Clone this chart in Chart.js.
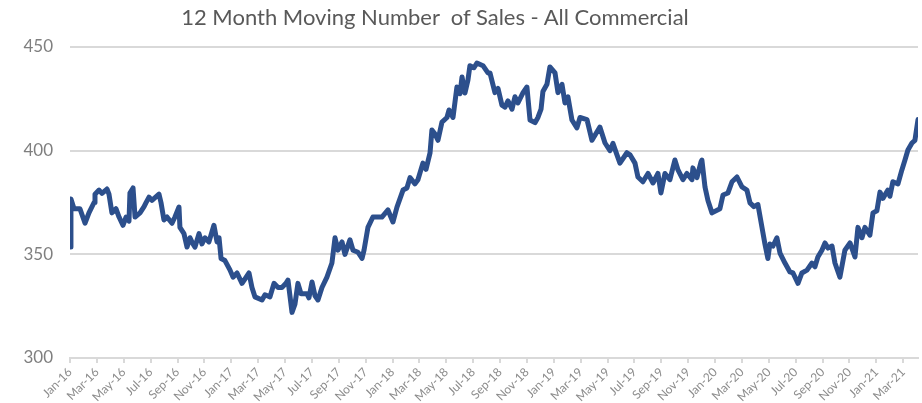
<!DOCTYPE html>
<html>
<head>
<meta charset="utf-8">
<script src="https://cdn.jsdelivr.net/npm/chart.js@4.4.1/dist/chart.umd.min.js"></script>
<style>
  html, body { margin: 0; padding: 0; background: #fff; }
  #wrap { position: relative; width: 922px; height: 403px; }
  #title {
    position: absolute; left: 0; top: 3px; width: 870px; text-align: center;
    font-family: Lato, 'Open Sans', sans-serif; font-size: 22px; color: #595959;
    white-space: pre;
  }
</style>
</head>
<body>
<div id="wrap">
  <div id="title">12 Month Moving Number  of Sales - All Commercial</div>
  <canvas id="salesChart" width="922" height="403"></canvas>
</div>
<script>
// months since Jan-16 for each reading
const months = [
  0, 0.07, 0.30, 0.74, 1.12, 1.41, 1.79, 1.86, 2.16, 2.38, 2.75, 2.90, 3.12, 3.42, 3.65, 3.94,
  4.17, 4.39, 4.46, 4.69, 4.84, 5.21, 5.51, 5.65, 5.88, 6.10, 6.62, 6.77, 6.99, 7.22, 7.59, 7.81,
  8.11, 8.18, 8.48, 8.71, 8.93, 9.15, 9.30, 9.60, 9.82, 10.04, 10.34, 10.71, 10.94, 11.09, 11.24, 11.53,
  11.90, 12.13, 12.43, 12.80, 13.32, 13.54, 13.76, 14.29, 14.51, 14.88, 15.18, 15.48, 15.77, 16.07, 16.22, 16.52,
  16.74, 16.96, 17.19, 17.63, 17.78, 18.01, 18.23, 18.45, 18.75, 19.12, 19.49, 19.72, 19.94, 20.24, 20.46, 20.83,
  21.06, 21.43, 21.73, 21.88, 22.17, 22.54, 23.21, 23.66, 24.03, 24.33, 24.78, 25.07, 25.30, 25.67, 25.89, 26.26,
  26.49, 26.79, 26.93, 27.16, 27.38, 27.68, 28.05, 28.20, 28.50, 28.79, 29.02, 29.17, 29.39, 29.61, 29.76, 30.06,
  30.28, 30.73, 31.10, 31.25, 31.62, 31.85, 32.14, 32.37, 32.59, 32.89, 33.11, 33.33, 33.71, 34.00, 34.23, 34.60,
  34.82, 35.05, 35.19, 35.49, 35.71, 36.09, 36.31, 36.61, 36.83, 37.05, 37.35, 37.72, 37.95, 38.47, 38.84, 39.43,
  39.81, 40.18, 40.40, 40.70, 40.92, 41.44, 41.67, 42.04, 42.26, 42.63, 43.01, 43.38, 43.75, 43.97, 44.27, 44.64,
  45.01, 45.24, 45.61, 45.91, 46.28, 46.35, 46.65, 46.95, 47.02, 47.25, 47.47, 47.77, 48.36, 48.59, 48.96, 49.26,
  49.63, 50.00, 50.37, 50.60, 50.89, 51.19, 51.49, 51.71, 51.93, 52.08, 52.31, 52.60, 52.83, 53.20, 53.57, 53.80,
  54.17, 54.46, 54.84, 55.21, 55.43, 55.65, 55.95, 56.18, 56.40, 56.70, 56.92, 57.29, 57.66, 58.04, 58.41, 58.63,
  58.93, 59.15, 59.52, 59.75, 60.04, 60.27, 60.49, 60.86, 61.01, 61.23, 61.61, 61.90, 62.13, 62.35, 62.65, 62.87,
  63.10
];

const sales = [
  353.5, 376.7, 372, 372, 365, 370, 375, 379, 381, 379.4, 381.5, 379, 370, 372, 368, 364,
  368, 366, 379.6, 382, 368, 370, 373, 374.8, 377.6, 376, 379, 375, 366.6, 368, 365, 368,
  372.8, 363, 360, 353.5, 358, 355, 353.5, 360, 355, 358, 356, 364, 356, 358, 348, 347,
  342.5, 339, 341, 336, 341, 334, 329.5, 328, 330.5, 329.5, 336, 334, 334, 336, 337.6, 322,
  326, 336, 331, 331, 329, 336.7, 330, 328, 334, 339, 345.8, 358, 352, 356, 350, 357,
  352, 351, 348, 352, 363, 368, 368, 371.4, 365.6, 372.8, 381, 382, 387, 384, 386, 394,
  391, 398.9, 410, 408, 405, 413.8, 416, 419.6, 416, 430.7, 427.5, 435.5, 427.8, 434, 441, 440,
  442.3, 441, 437.5, 437.5, 428, 430, 422, 421, 424, 420, 426, 423, 428, 430.7, 414.8, 413.5,
  416, 420, 428.5, 432, 440.4, 437.5, 428, 432, 423, 426, 414.8, 411, 416, 415, 405, 411.4,
  403.7, 400, 403.5, 398, 394, 399, 398, 394, 387.3, 385, 389, 384.4, 389, 379.6, 389, 386,
  395.5, 390.7, 386, 389, 386, 391.7, 387, 394.5, 395.5, 382.5, 376, 370, 372, 378.6, 379.6, 385,
  387.3, 382.5, 381, 374.8, 373, 374, 363, 355, 348, 355, 354, 358, 350.6, 345.8, 341.5, 341,
  336, 341, 342.4, 345.8, 344, 348.7, 352, 355.5, 353, 354, 345.8, 339, 352, 355.5, 348.7, 363,
  358, 363, 359.3, 370, 371, 380, 377, 381, 378, 385, 384, 390.7, 395.5, 400.3, 403.7, 405,
  415
];

const tickLabels = [
  'Jan-16', 'Mar-16', 'May-16', 'Jul-16', 'Sep-16', 'Nov-16',
  'Jan-17', 'Mar-17', 'May-17', 'Jul-17', 'Sep-17', 'Nov-17',
  'Jan-18', 'Mar-18', 'May-18', 'Jul-18', 'Sep-18', 'Nov-18',
  'Jan-19', 'Mar-19', 'May-19', 'Jul-19', 'Sep-19', 'Nov-19',
  'Jan-20', 'Mar-20', 'May-20', 'Jul-20', 'Sep-20', 'Nov-20',
  'Jan-21', 'Mar-21'
];

const yTicks = [300, 350, 400, 450];

const points = months.map((m, i) => ({ x: m, y: sales[i] }));

const ctx = document.getElementById('salesChart').getContext('2d');
new Chart(ctx, {
    type: 'line',
    data: {
        datasets: [{
            label: '12 Month Moving Number of Sales',
            data: points,
            borderColor: '#2c4f8c',
            borderWidth: 5,
            pointRadius: 0,
            tension: 0,
            borderJoinStyle: 'round',
            borderCapStyle: 'round'
        }]
    },
    options: {
        responsive: false,
        animation: false,
        layout: { padding: { top: 47, right: 4, left: 0, bottom: 0 } },
        scales: {
            x: {
                type: 'linear',
                min: 0,
                max: 63.1,
                afterBuildTicks: (scale) => {
                    scale.ticks = tickLabels.map((_, i) => ({ value: i * 2 }));
                },
                afterFit: (scale) => { scale.height = 45; },
                border: { display: true, color: '#d9d9d9', width: 2 },
                grid: {
                    drawOnChartArea: false,
                    drawTicks: true,
                    tickLength: 5,
                    color: '#d9d9d9',
                    lineWidth: 2
                },
                ticks: {
                    autoSkip: false,
                    minRotation: 45,
                    maxRotation: 45,
                    padding: 2,
                    color: '#8c8c8c',
                    font: { family: 'Lato', size: 12 },
                    callback: (v) => tickLabels[Math.round(v / 2)]
                }
            },
            y: {
                min: 300,
                max: 450,
                afterBuildTicks: (scale) => {
                    scale.ticks = yTicks.map(v => ({ value: v }));
                },
                afterFit: (scale) => { scale.width = 70; },
                border: { display: false },
                grid: {
                    drawTicks: false,
                    color: (c) => c.tick && c.tick.value === 300 ? 'rgba(0,0,0,0)' : '#d9d9d9',
                    lineWidth: 2
                },
                ticks: {
                    padding: 17,
                    color: '#7f7f7f',
                    font: { family: 'Lato', size: 17 }
                }
            }
        },
        plugins: {
            legend: { display: false },
            title: { display: false },
            tooltip: { enabled: false }
        }
    }
});
</script>
</body>
</html>
